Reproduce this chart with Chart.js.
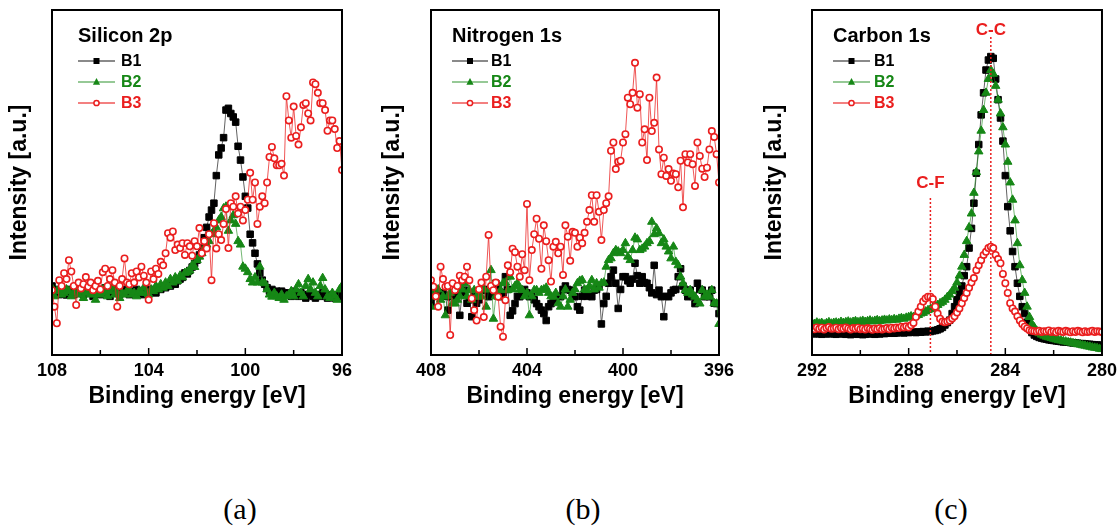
<!DOCTYPE html>
<html>
<head>
<meta charset="utf-8">
<script src="https://cdn.jsdelivr.net/npm/chart.js@4.4.1/dist/chart.umd.min.js"></script>
<style>
  body { margin: 0; background: #fff; width: 1119px; height: 529px; position: relative; overflow: hidden; }
  .panel { position: absolute; top: 0; width: 362px; height: 420px; }
  .cap { position: absolute; top: 492px; font: 30px "Liberation Serif", "Times New Roman", serif; line-height: 34px; transform: translateX(-50%); color: #000; }
</style>
</head>
<body>
<div class="panel" style="left:0px"><canvas id="si" width="362" height="420"></canvas></div>
<div class="panel" style="left:379px"><canvas id="ni" width="362" height="420"></canvas></div>
<div class="panel" style="left:760px"><canvas id="cc" width="362" height="420"></canvas></div>
<div class="cap" style="left:240px">(a)</div>
<div class="cap" style="left:583px">(b)</div>
<div class="cap" style="left:951px">(c)</div>
<script>
// scan ranges [start, end] in eV, 0.1 eV step
const siRange = [108, 96];
const niRange = [408, 396];
const cRange = [292, 280];

const siTicks = [108, 104, 100, 96];
const niTicks = [408, 404, 400, 396];
const cTicks = [292, 288, 284, 280];

const siMarks = [106, 104, 102, 100, 98];
const niMarks = [406, 404, 402, 400, 398];
const cMarks = [290, 288, 286, 284, 282];

// Silicon 2p
const siB1 = [20, 18.5, 19, 17.5, 19, 18, 17.4, 19, 18.5, 17.5,
  19.5, 18, 18.5, 17.5, 19, 18, 18.5, 17, 18.5, 19,
  17.5, 18, 19.5, 18, 17, 18.5, 19, 18, 17.5, 18.5,
  19, 18, 17.5, 18.5, 18, 19, 18, 18.5, 17.5, 18.5,
  19, 18.5, 19, 18, 19.5, 19, 20, 19.5, 20.5, 20,
  21, 20.5, 21.5, 22, 22.5, 23.8, 23.5, 24.5, 25.5, 26.5,
  27.5, 29, 31, 34, 37, 40, 42, 44, 52, 58,
  60, 63, 71, 71.5, 70, 69, 67.5, 60.5, 56.5, 51.6,
  46, 42.6, 35, 32.5, 29.5, 26.4, 23.8, 21.7, 20.5, 19.5,
  18.5, 19, 18, 18.5, 17.5, 18.5, 18, 17.5, 18, 17,
  18.5, 17.5, 17, 18, 17.5, 16.5, 17.5, 18, 17, 16.5,
  17.5, 17, 18, 17.5, 16.5, 17, 17.5, 16.5, 17, 17.5,
  17];
const siB2 = [19.5, 17, 18.5, 19, 17.5, 18, 19, 18.5, 17, 18,
  19, 17.5, 18.5, 16.5, 18, 19, 17.5, 18.5, 16, 18,
  17.5, 19, 18, 17, 18.5, 19.5, 17.5, 18, 16.5, 18,
  17.5, 18.5, 19, 17.5, 18, 17, 18.5, 18, 19.5, 18,
  17.5, 19, 18.5, 20, 19, 20.5, 19.5, 21, 20, 22,
  21, 22.5, 21.5, 23, 22.5, 23.8, 24, 24.5, 26, 25.5,
  27.5, 28.5, 29.5, 31, 32, 33, 35, 36, 37, 39,
  40, 42.5, 43, 36, 39, 40.5, 38, 33, 32, 25.6,
  25, 24, 22, 21, 22.5, 21, 25.6, 21, 20.8, 19,
  17.5, 16.9, 18, 17, 16.5, 17.5, 16, 17, 17.5, 18.5,
  17, 19, 20.5, 18, 17, 20, 22, 19, 21, 18,
  17, 20, 22.3, 19, 17, 16.5, 18, 17, 16, 19,
  20];
const siB3 = [18.8, 14, 9.2, 21.7, 20, 23.7, 22, 27.5, 24.2, 20,
  14.5, 21, 19.3, 20.5, 22.6, 19.8, 21, 18.8, 20, 21.5,
  19, 24, 25, 20, 22, 24.6, 21, 14, 20, 22,
  28, 21, 20.5, 23.7, 21, 24.2, 22.5, 25.6, 23, 21,
  16, 24.2, 22, 25, 23.5, 27, 26, 29.5, 35.3, 34,
  35.8, 30.4, 32, 31, 32.4, 29, 32.4, 31.5, 28.8, 33,
  31.5, 36.8, 29.5, 33, 30.9, 35, 21.7, 38.2, 30.9, 35,
  33.3, 38, 42.3, 31, 44, 43, 46, 41, 43, 39,
  42, 45, 52.8, 45, 50, 38, 43, 46, 44, 50,
  57.4, 60.3, 57, 55, 55, 55.4, 52, 75, 68, 63,
  72, 63.5, 61, 66, 72.5, 73, 70, 68, 79, 78.5,
  76, 73, 73, 71, 65, 68, 68, 65.5, 60, 62,
  53.6];

// Nitrogen 1s
const niB1 = [15, 17, 19, 18, 16.9, 18, 17, 13, 16.9, 18,
  16.9, 19, 11.5, 18, 18.8, 15, 16, 11.1, 17, 15,
  16, 18.8, 19, 18.8, 16.9, 18, 18.8, 20.8, 20, 16.9,
  18, 22.7, 19, 11.5, 12.8, 14.9, 17, 16.9, 18, 19,
  18, 16.9, 17, 16, 14.9, 14, 13, 12, 10, 14,
  14.9, 16, 16.9, 17, 16.9, 19, 20, 19, 18.8, 17,
  16.9, 14, 13, 17, 18.8, 17, 17.5, 16.9, 18.8, 19,
  20, 9, 14.9, 17, 20.8, 22.7, 24.6, 20.8, 13.5, 19,
  22.7, 22.7, 21.5, 20.8, 22, 26.6, 23, 20.8, 22.7, 21,
  20.8, 19.5, 18, 26, 17.5, 18.8, 16.9, 11.1, 17, 16.9,
  18, 18.8, 19, 22.7, 25, 20, 18.8, 16.9, 18.8, 17,
  14.9, 20.8, 19, 18.8, 16.9, 17, 16.9, 18.8, 15, 14.9,
  12];
const niB2 = [14, 18, 17, 19, 16, 17, 11.5, 17, 18, 15,
  14.9, 16, 17, 19, 20.8, 17, 18.8, 16, 18.8, 17,
  16.9, 17, 19, 14, 19, 24.6, 10.5, 17, 16.9, 18.8,
  20.8, 21, 18.8, 22.7, 19, 20, 20.8, 19, 18.8, 17,
  18, 11.5, 17, 18.8, 18.8, 18, 18.8, 19, 19.5, 18,
  17, 16.9, 18, 15, 14, 17, 19, 14, 16, 18,
  19, 20.8, 21.5, 21.7, 19, 18.8, 20, 21.7, 19, 20.8,
  19.5, 20.8, 21, 25.6, 27.5, 28, 29.5, 30.4, 30, 29.5,
  30.4, 32.4, 28.5, 27.5, 30.4, 34, 33.5, 30.4, 30.8, 31.4,
  32.4, 33, 38.6, 35, 36.7, 35.3, 32.4, 33.5, 31.4, 30,
  28, 31.4, 27, 26, 22.7, 20.8, 18.8, 18, 18.8, 17.5,
  16.9, 15.9, 14.9, 18.8, 16.9, 17.5, 16.9, 18.8, 15, 14.9,
  9];
const niB3 = [21.7, 19.8, 17, 14, 25.6, 22, 19.8, 20, 5.8, 20.8,
  18.8, 20, 23, 21.7, 22.7, 25.6, 21.7, 16.4, 13, 10,
  19, 21, 11, 22.7, 34.8, 20, 18.8, 21, 16.9, 8.2,
  5.3, 15.9, 26, 24, 30.8, 29.8, 25.6, 22.7, 29.2, 24.6,
  43.8, 21.7, 30.4, 35, 39.5, 33.7, 25, 37.6, 33, 27.5,
  21.3, 31.4, 32.8, 29.5, 31.4, 23.2, 37.6, 34.3, 27.3, 35.7,
  35.4, 31.4, 34, 32.4, 35.4, 38.6, 42, 46.3, 38.6, 46.3,
  41.5, 33.3, 42, 44, 46, 59.2, 61.6, 53.9, 56, 56.3,
  61.6, 64, 74.6, 72.7, 76, 84.7, 71.7, 75.6, 61.6, 65.4,
  56.5, 74.6, 64.9, 67.3, 80.4, 59.6, 52.4, 57.2, 51.9, 53.9,
  50.5, 52.6, 52.4, 48.6, 56.3, 42.8, 58.2, 55.8, 58.2, 55.3,
  49, 61.6, 57.7, 54, 51.6, 54.3, 59.6, 64.9, 63.2, 58.2,
  50];

// Carbon 1s
const cB1 = [6.3, 6.1, 6.4, 6.2, 6.0, 6.3, 6.1, 6.2, 6.4, 6.1,
  6.0, 6.2, 6.3, 6.1, 6.0, 6.2, 5.9, 6.1, 6.2, 6.0,
  6.1, 5.9, 6.0, 6.2, 6.1, 6.3, 6.0, 6.2, 6.1, 6.3,
  6.2, 6.4, 6.3, 6.5, 6.3, 6.4, 6.6, 6.5, 6.4, 6.6,
  6.5, 6.7, 6.6, 6.5, 6.7, 6.6, 6.8, 6.7, 6.9, 6.8,
  7.0, 7.1, 7.3, 7.6, 8.0, 8.7, 9.4, 10.1, 12.0, 14.0,
  16.0, 18.0, 20.0, 23.0, 25.6, 31.0, 36.7, 44.0, 52.7, 61.0,
  69.6, 76.0, 82.6, 85.5, 86.5, 86.0, 80.0, 74.0, 68.7, 62.0,
  52.0, 43.0, 36.0, 30.0, 25.6, 20.8, 17.0, 14.0, 12.0, 9.5,
  7.7, 6.5, 5.8, 5.4, 5.1, 4.9, 4.7, 4.6, 4.4, 4.3,
  4.2, 4.1, 4.0, 3.9, 3.8, 3.8, 3.7, 3.6, 3.5, 3.5,
  3.4, 3.3, 3.3, 3.2, 3.1, 3.1, 3.0, 2.9, 2.9, 2.8,
  2.8];
const cB2 = [9.2, 9.0, 9.4, 9.1, 9.3, 8.9, 9.2, 9.5, 9.1, 9.3,
  9.4, 9.2, 9.6, 9.3, 9.5, 9.7, 9.4, 9.6, 9.8, 9.5,
  9.7, 9.9, 9.6, 9.8, 10.0, 9.7, 9.9, 10.1, 9.8, 10.0,
  10.2, 10.0, 10.3, 10.1, 10.4, 10.2, 10.5, 10.7, 10.5, 10.8,
  11.0, 11.2, 11.0, 11.4, 11.6, 12.0, 12.2, 12.6, 13.0, 13.3,
  13.7, 14.0, 14.5, 15.0, 15.4, 16.0, 16.8, 17.5, 18.5, 19.5,
  21.0, 23.0, 25.6, 29.0, 33.0, 37.0, 41.0, 47.0, 53.0, 59.0,
  65.0, 71.0, 76.0, 80.0, 82.6, 81.5, 78.0, 74.0, 70.0, 66.0,
  61.0, 56.0, 50.0, 45.0, 39.0, 32.4, 26.0, 21.7, 18.0, 14.0,
  11.0, 9.0, 8.0, 7.0, 6.3, 5.9, 5.6, 5.3, 5.1, 4.9,
  4.7, 4.5, 4.3, 4.2, 4.0, 3.9, 3.7, 3.6, 3.4, 3.3,
  3.1, 3.0, 2.8, 2.7, 2.5, 2.4, 2.2, 2.1, 2.0, 1.8,
  1.7];
const cB3 = [7.8, 7.5, 8.0, 7.6, 7.9, 7.4, 7.8, 8.1, 7.6, 7.7,
  7.9, 7.5, 7.8, 7.6, 8.0, 7.7, 7.4, 7.8, 7.6, 7.9,
  7.5, 7.7, 7.4, 7.8, 7.6, 7.3, 7.7, 7.5, 7.8, 7.4,
  7.6, 7.8, 7.5, 7.9, 7.7, 8.0, 7.8, 8.2, 8.0, 8.3,
  8.0, 8.6, 9.3, 11.0, 12.6, 14.0, 15.5, 16.4, 16.9, 16.9,
  16.2, 14.0, 12.0, 10.5, 9.7, 9.5, 9.7, 10.0, 10.6, 11.2,
  12.3, 13.5, 15.0, 16.5, 18.0, 19.5, 21.0, 22.3, 24.6, 26.0,
  27.5, 29.0, 29.9, 31.0, 31.4, 31.0, 29.0, 27.8, 26.6, 23.5,
  20.8, 18.0, 15.0, 13.5, 12.6, 11.2, 10.0, 9.0, 8.2, 7.7,
  7.2, 7.0, 6.9, 6.8, 7.0, 6.7, 6.9, 6.8, 7.1, 6.7,
  6.9, 6.6, 7.0, 6.8, 6.7, 7.0, 6.8, 6.6, 6.9, 6.7,
  7.0, 6.8, 6.6, 6.9, 6.7, 6.8, 7.0, 6.7, 6.9, 6.8,
  6.7];

// peak markers in the carbon panel: energy, line top, label height (a.u.)
const cPeaks = [
  { label: 'C-F', energy: 287.1, top: 45.5, text: 49.8 },
  { label: 'C-C', energy: 284.6, top: 92.2, text: 94.2 }
];

const BLACK = '#000000', GREEN = 'rgb(22,135,22)', RED = 'rgb(234,30,30)';
const FONT = '"Liberation Sans", Arial, sans-serif';

function energies(range) {
  const n = Math.round((range[0] - range[1]) * 10) + 1;
  return Array.from({ length: n }, (_, i) => +(range[0] - i * 0.1).toFixed(1));
}

function drawMark(ctx, style, x, y, r, fill, stroke) {
  ctx.beginPath();
  if (style === 'rect') ctx.rect(x - r, y - r, 2 * r, 2 * r);
  else if (style === 'triangle') {
    ctx.moveTo(x, y - r * 1.1);
    ctx.lineTo(x + r, y + r * 0.75);
    ctx.lineTo(x - r, y + r * 0.75);
    ctx.closePath();
  } else ctx.arc(x, y, r, 0, Math.PI * 2);
  ctx.fillStyle = fill;
  ctx.fill();
  if (stroke) { ctx.strokeStyle = stroke; ctx.lineWidth = 1.5; ctx.stroke(); }
}

// frame, inward ticks, panel title + legend, peak markers
const decor = {
  id: 'decor',
  afterDatasetsDraw(chart, args, o) {
    const { ctx, chartArea: a, scales: { x, y } } = chart;
    ctx.save();
    (o.peaks || []).forEach(p => {
      const px = x.getPixelForValue(p.energy);
      ctx.strokeStyle = RED;
      ctx.lineWidth = 1.5;
      ctx.setLineDash([2, 2]);
      ctx.beginPath();
      ctx.moveTo(px, y.getPixelForValue(p.top));
      ctx.lineTo(px, a.bottom);
      ctx.stroke();
      ctx.setLineDash([]);
      ctx.fillStyle = RED;
      ctx.font = 'bold 17px ' + FONT;
      ctx.textAlign = 'center';
      ctx.textBaseline = 'middle';
      ctx.fillText(p.label, px, y.getPixelForValue(p.text));
    });
    ctx.restore();
  },
  afterDraw(chart, args, o) {
    const { ctx, chartArea: a, scales: { x } } = chart;
    ctx.save();
    ctx.strokeStyle = '#000';
    ctx.lineWidth = 2;
    ctx.strokeRect(a.left, a.top, a.right - a.left, a.bottom - a.top);
    ctx.lineWidth = 1.5;
    o.marks.forEach(v => {
      const px = x.getPixelForValue(v);
      const len = o.major.includes(v) ? 7 : 5;
      ctx.beginPath();
      ctx.moveTo(px, a.bottom);
      ctx.lineTo(px, a.bottom - len);
      ctx.stroke();
    });

    const lx = a.left + o.legend[0];
    ctx.fillStyle = '#000';
    ctx.textAlign = 'left';
    ctx.textBaseline = 'middle';
    ctx.font = 'bold 20px ' + FONT;
    ctx.fillText(o.title, lx, a.top + 26);
    ctx.font = 'bold 16px ' + FONT;
    chart.data.datasets.forEach((ds, k) => {
      const ly = a.top + 51 + k * 21;
      ctx.strokeStyle = ds.borderColor;
      ctx.lineWidth = 1.5;
      ctx.beginPath();
      ctx.moveTo(lx, ly);
      ctx.lineTo(a.left + o.legend[1], ly);
      ctx.stroke();
      const mx = (lx + a.left + o.legend[1]) / 2;
      if (ds.pointStyle === 'circle') drawMark(ctx, 'circle', mx, ly, 2.6, '#fff', ds.pointBorderColor);
      else drawMark(ctx, ds.pointStyle, mx, ly, ds.pointStyle === 'rect' ? 3 : 3.6, ds.pointBackgroundColor);
      ctx.fillStyle = ds.textColor;
      ctx.fillText(ds.label, a.left + o.legend[2], ly + 1);
    });
    ctx.restore();
  }
};

function makeChart(id, range, ticks, marks, series, title, yPad, padRight, legend, peaks) {
  const xs = energies(range);
  const styles = [
    { label: 'B1', pointStyle: 'rect', pointRadius: 4.6, pointBackgroundColor: BLACK, pointBorderColor: BLACK, pointBorderWidth: 1, borderColor: 'rgba(70,70,70,0.85)', textColor: BLACK, order: 2 },
    { label: 'B2', pointStyle: 'triangle', pointRadius: 4.9, pointBackgroundColor: GREEN, pointBorderColor: GREEN, pointBorderWidth: 1, borderColor: 'rgba(22,135,22,0.6)', textColor: GREEN, order: 1 },
    { label: 'B3', pointStyle: 'circle', pointRadius: 3.2, pointBackgroundColor: '#fff', pointBorderColor: RED, pointBorderWidth: 1.6, borderColor: 'rgba(234,30,30,0.75)', textColor: RED, order: 0 }
  ];
  return new Chart(document.getElementById(id), {
    type: 'line',
    data: {
      labels: xs,
      datasets: series.map((vals, k) => Object.assign({ data: vals, borderWidth: 1, tension: 0, fill: false }, styles[k]))
    },
    options: {
      responsive: false,
      animation: false,
      devicePixelRatio: 1,
      layout: { padding: { left: 0, top: 10, right: padRight, bottom: 0 } },
      plugins: {
        legend: { display: false },
        tooltip: { enabled: false },
        decor: { title: title, marks: marks, major: ticks, legend: legend, peaks: peaks }
      },
      scales: {
        x: {
          type: 'linear',
          reverse: true,
          min: range[1],
          max: range[0],
          afterBuildTicks: s => { s.ticks = ticks.map(v => ({ value: v })); },
          afterFit: s => { s.height = 65; },
          grid: { display: false, drawTicks: false },
          border: { display: false },
          ticks: { color: '#000', padding: 5, maxRotation: 0, autoSkip: false, font: { family: FONT, size: 18, weight: 'bold' } },
          title: { display: true, text: 'Binding energy [eV]', color: '#000', padding: { top: 0, bottom: 10 }, font: { family: FONT, size: 23, weight: 'bold' } }
        },
        y: {
          min: 0,
          max: 100,
          afterFit: s => { s.width = 52; },
          grid: { display: false, drawTicks: false },
          border: { display: false },
          ticks: { display: false },
          title: { display: true, text: 'Intensity [a.u.]', color: '#000', padding: { top: yPad, bottom: 0 }, font: { family: FONT, size: 23, weight: 'bold' } }
        }
      }
    },
    plugins: [decor]
  });
}

makeChart('si', siRange, siTicks, siMarks, [siB1, siB2, siB3], 'Silicon 2p', 6, 20, [26, 63, 69], []);
makeChart('ni', niRange, niTicks, niMarks, [niB1, niB2, niB3], 'Nitrogen 1s', 0, 22, [21, 57, 60], []);
makeChart('cc', cRange, cTicks, cMarks, [cB1, cB2, cB3], 'Carbon 1s', 1, 20, [21, 58, 62], cPeaks);
</script>
</body>
</html>
